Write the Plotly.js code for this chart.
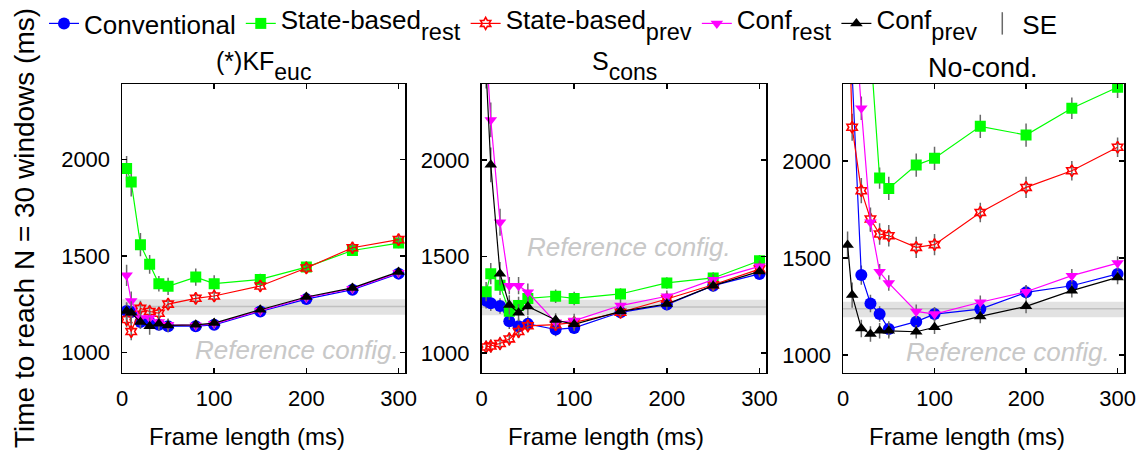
<!DOCTYPE html>
<html><head><meta charset="utf-8">
<script src="https://cdn.plot.ly/plotly-3.0.1.min.js"></script>
<style>html,body{margin:0;padding:0;background:#fff}</style>
</head><body><div id="chart" style="width:1147px;height:455px"></div>
<script>
// ---------------- data ----------------
const frameLen = [5, 10, 20, 30, 40, 50, 80, 100, 150, 200, 250, 300];
const xTickVals = [0, 100, 200, 300];
const yTickVals = [1000, 1500, 2000];
const panelTitles = ['(*)KF<span style="font-size:23px;baseline-shift:-10px">euc</span>',
                     'S<span style="font-size:23px;baseline-shift:-10px">cons</span>',
                     'No-cond.'];
const seriesNames = ['Conventional',
  '<span style="baseline-shift:5px">State-based</span><span style="font-size:23.5px;baseline-shift:-6px">rest</span>',
  '<span style="baseline-shift:5px">State-based</span><span style="font-size:23.5px;baseline-shift:-6px">prev</span>',
  '<span style="baseline-shift:5px">Conf</span><span style="font-size:23.5px;baseline-shift:-6px">rest</span>',
  '<span style="baseline-shift:5px">Conf</span><span style="font-size:23.5px;baseline-shift:-6px">prev</span>'];
const seName = 'SE';
const refBandLow = 1195, refBandHigh = 1275, refValue = 1238;
const refLabel = 'Reference config.';

// Panel 1: (*)KF_euc
const kfConv      = [1214, 1209, 1157, 1157, 1143, 1136, 1136, 1143, 1212, 1276, 1325, 1408];
const kfStateRest = [1952, 1882, 1558, 1456, 1356, 1342, 1390, 1356, 1378, 1442, 1528, 1566];
const kfStatePrev = [1170, 1108, 1228, 1212, 1203, 1250, 1280, 1292, 1344, 1437, 1542, 1584];
const kfConfRest  = [1399, 1266, 1178, 1178, 1157, 1143, 1140, 1148, 1216, 1283, 1330, 1412];
const kfConfPrev  = [1214, 1205, 1157, 1136, 1148, 1140, 1143, 1152, 1221, 1287, 1334, 1417];
const kfConvSE      = [45, 55, 35, 30, 30, 30, 25, 25, 25, 25, 22, 22];
const kfStateRestSE = [65, 75, 60, 48, 40, 45, 45, 43, 30, 30, 26, 26];
const kfStatePrevSE = [40, 45, 40, 35, 35, 30, 25, 25, 25, 25, 25, 25];
const kfConfRestSE  = [55, 50, 40, 35, 30, 30, 25, 25, 25, 25, 25, 25];
const kfConfPrevSE  = [45, 60, 35, 45, 35, 35, 25, 25, 25, 25, 25, 25];

// Panel 2: S_cons
const consConv      = [1270, 1257, 1243, 1163, 1138, 1150, 1121, 1129, 1210, 1250, 1348, 1409];
const consStateRest = [1317, 1410, 1350, 1215, 1245, 1282, 1293, 1282, 1305, 1362, 1388, 1477];
const consStatePrev = [1030, 1035, 1048, 1072, 1110, 1140, 1146, 1158, 1210, 1279, 1353, 1434];
const consConfRest  = [2590, 2207, 1676, 1348, 1348, 1314, 1158, 1167, 1245, 1293, 1379, 1448];
const consConfPrev  = [2460, 1974, 1410, 1248, 1208, 1240, 1170, 1148, 1215, 1253, 1348, 1422];
const consConvSE      = [40, 40, 40, 40, 40, 40, 35, 30, 30, 30, 30, 25];
const consStateRestSE = [50, 55, 50, 45, 45, 45, 35, 35, 30, 30, 30, 30];
const consStatePrevSE = [35, 35, 35, 35, 35, 35, 30, 30, 30, 30, 30, 30];
const consConfRestSE  = [90, 90, 70, 45, 45, 45, 35, 35, 30, 30, 30, 30];
const consConfPrevSE  = [90, 90, 60, 50, 45, 45, 35, 35, 30, 30, 30, 30];

// Panel 3: No-cond.
const ncConv      = [null, 2450, 1412, 1266, 1211, 1134, 1172, 1211, 1237, 1323, 1357, 1418];
const ncStateRest = [null, null, null, 2590, 1912, 1859, 1979, 2014, 2179, 2134, 2272, 2380];
const ncStatePrev = [3000, 2174, 1847, 1701, 1624, 1615, 1555, 1569, 1735, 1864, 1950, 2071];
const ncConfRest  = [null, 2950, 2272, 1684, 1429, 1371, 1225, 1211, 1272, 1326, 1409, 1474];
const ncConfPrev  = [1567, 1309, 1137, 1108, 1125, 1125, 1120, 1143, 1199, 1251, 1332, 1400];
const ncConvSE      = [60, 60, 50, 45, 40, 40, 35, 35, 35, 35, 35, 35];
const ncStateRestSE = [70, 70, 70, 60, 55, 60, 60, 60, 60, 60, 55, 55];
const ncStatePrevSE = [70, 70, 65, 60, 55, 55, 55, 55, 50, 55, 50, 50];
const ncConfRestSE  = [70, 70, 60, 50, 40, 40, 35, 35, 35, 35, 35, 35];
const ncConfPrevSE  = [70, 65, 45, 40, 40, 40, 35, 35, 35, 35, 35, 35];

// ---------------- layout helpers ----------------
const W = 1147, H = 455;
const px = v => v / W;
const py = v => 1 - v / H;
const FONT = 'Arial, "Liberation Sans", sans-serif';

const styles = [
  {color: '#0000ff', symbol: 'circle', size: 12},
  {color: '#00ff00', symbol: 'square', size: 11},
  {color: '#ff0000', symbol: 'hexagram-open', size: 9},
  {color: '#ff00ff', symbol: 'triangle-down', size: 11},
  {color: '#000000', symbol: 'triangle-up', size: 11}
];

const panels = [
  {x: 'x',  y: 'y',  series: [kfConv, kfStateRest, kfStatePrev, kfConfRest, kfConfPrev],
   se: [kfConvSE, kfStateRestSE, kfStatePrevSE, kfConfRestSE, kfConfPrevSE]},
  {x: 'x2', y: 'y2', series: [consConv, consStateRest, consStatePrev, consConfRest, consConfPrev],
   se: [consConvSE, consStateRestSE, consStatePrevSE, consConfRestSE, consConfPrevSE]},
  {x: 'x3', y: 'y3', series: [ncConv, ncStateRest, ncStatePrev, ncConfRest, ncConfPrev],
   se: [ncConvSE, ncStateRestSE, ncStatePrevSE, ncConfRestSE, ncConfPrevSE]}
];

const traces = [];
panels.forEach((p, pi) => {
  p.series.forEach((vals, si) => {
    const st = styles[si];
    traces.push({
      type: 'scatter', mode: 'lines+markers',
      x: frameLen, y: vals, xaxis: p.x, yaxis: p.y,
      name: seriesNames[si], showlegend: pi === 0, legendrank: si + 1,
      line: {color: st.color, width: 1.2},
      marker: {color: st.color, symbol: st.symbol, size: st.size,
               line: {color: st.color, width: st.symbol.endsWith('open') ? 1.6 : 0}},
      error_y: {type: 'data', array: p.se[si], visible: true, color: 'rgb(105,105,105)', thickness: 1.5, width: 0}
    });
  });
});
// SE legend entry
traces.push({type: 'scatter', mode: 'markers', x: [null], y: [null], xaxis: 'x', yaxis: 'y',
  name: seName, showlegend: true, legendrank: 6,
  marker: {symbol: 'line-ns-open', size: 16, color: 'rgb(105,105,105)', line: {color: 'rgb(105,105,105)', width: 1.5}}});

const domX = [[px(122), px(405)], [px(481.5), px(766)], [px(843), px(1124)]];
const domY = [py(372.5), py(84)];
const yRanges = [[896, 2390], [898, 2393], [910, 2397]];

function xAx(i) {
  return {domain: domX[i], anchor: ['y', 'y2', 'y3'][i], range: [0, 307], tickvals: xTickVals,
    ticks: 'inside', ticklen: 5, tickwidth: 1.5, tickcolor: '#000', mirror: 'ticks',
    showline: true, linecolor: '#000', linewidth: 1.5, showgrid: false, zeroline: false,
    tickfont: {family: FONT, size: 22, color: '#000'}, ticklabelstandoff: 6, fixedrange: true};
}
function yAx(i) {
  return {domain: domY, anchor: ['x', 'x2', 'x3'][i], range: yRanges[i], tickvals: yTickVals,
    ticks: 'inside', ticklen: 5, tickwidth: 1.5, tickcolor: '#000', mirror: 'ticks',
    showline: true, linecolor: '#000', linewidth: 1.5, showgrid: false, zeroline: false,
    tickfont: {family: FONT, size: 22, color: '#000'}, ticklabelstandoff: 6, fixedrange: true};
}

const shapes = [];
['x', 'x2', 'x3'].forEach((xa, i) => {
  const ya = ['y', 'y2', 'y3'][i];
  shapes.push({type: 'rect', xref: xa + ' domain', x0: 0, x1: 1, yref: ya, y0: refBandLow, y1: refBandHigh,
    fillcolor: 'rgb(226,226,226)', line: {width: 0}, layer: 'below'});
  shapes.push({type: 'line', xref: xa + ' domain', x0: 0, x1: 1, yref: ya, y0: refValue, y1: refValue,
    line: {color: 'rgb(192,192,192)', width: 1.5}, layer: 'below'});
});

const annotations = [];
const titleCenters = [263.5, 624, 983];
const titleY = [87, 87, 85];
const titleSizes = [25, 25, 27];
panelTitles.forEach((t, i) => {
  annotations.push({text: t, xref: 'paper', yref: 'paper', x: px(titleCenters[i]), y: py(titleY[i]),
    xanchor: 'center', yanchor: 'bottom', showarrow: false,
    font: {family: FONT, size: titleSizes[i], color: '#000'}});
});
const xTitleCenters = [246.5, 606, 967];
xTitleCenters.forEach(c => {
  annotations.push({text: 'Frame length (ms)', xref: 'paper', yref: 'paper', x: px(c), y: py(436),
    xanchor: 'center', yanchor: 'middle', showarrow: false,
    font: {family: FONT, size: 24, color: '#000'}});
});
annotations.push({text: 'Time to reach N = 30 windows (ms)', xref: 'paper', yref: 'paper',
  x: px(24), y: py(228), xanchor: 'center', yanchor: 'middle', textangle: -90, showarrow: false,
  font: {family: FONT, size: 28, color: '#000'}});
const refPos = [[296.5, 350], [629, 247], [1008, 352]];
refPos.forEach(p => {
  annotations.push({text: refLabel, xref: 'paper', yref: 'paper', x: px(p[0]), y: py(p[1]),
    xanchor: 'center', yanchor: 'middle', showarrow: false,
    font: {family: FONT, size: 26, color: 'rgb(200,200,200)', style: 'italic'}});
});

const layout = {
  width: W, height: H, autosize: false,
  margin: {l: 0, r: 0, t: 0, b: 0, pad: 0},
  paper_bgcolor: '#fff', plot_bgcolor: '#fff',
  font: {family: FONT, color: '#000'},
  showlegend: true,
  legend: {orientation: 'h', x: px(44), y: 1, xanchor: 'left', yanchor: 'top',
    font: {family: FONT, size: 26, color: '#000'}, bgcolor: 'rgba(0,0,0,0)', borderwidth: 0,
    traceorder: 'normal'},
  xaxis: xAx(0), xaxis2: xAx(1), xaxis3: xAx(2),
  yaxis: yAx(0), yaxis2: yAx(1), yaxis3: yAx(2),
  shapes: shapes, annotations: annotations
};

Plotly.newPlot('chart', traces, layout, {staticPlot: true, displayModeBar: false});
</script>
</body></html>
